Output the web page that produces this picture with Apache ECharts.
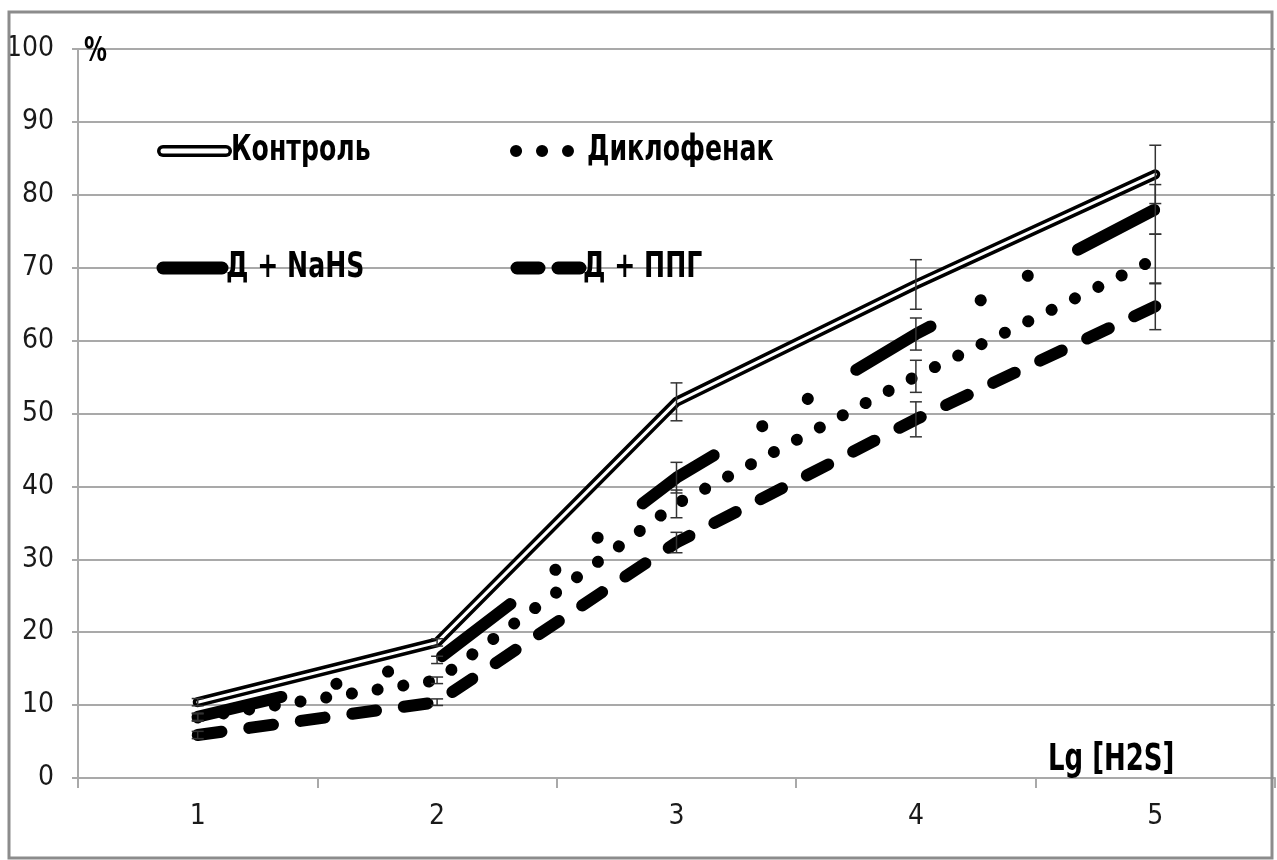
<!DOCTYPE html>
<html>
<head>
<meta charset="utf-8">
<script src="https://cdn.jsdelivr.net/npm/echarts@6/dist/echarts.min.js"></script>
<style>
html,body{margin:0;padding:0;background:#fff;}
#chart{width:1277px;height:860px;}
</style>
</head>
<body>
<div id="chart"></div>
<script>
// ---- data ----
const categories = ['1', '2', '3', '4', '5'];
const yTicks = [0, 10, 20, 30, 40, 50, 60, 70, 80, 90, 100];
const seriesNames = ['Контроль', 'Диклофенак', 'Д + NaHS', 'Д + ППГ'];
const control = [10.4, 18.6, 51.6, 67.7, 82.8];
const controlErr = [0.5, 0.5, 2.6, 3.4, 4.0];
const diclofenac = [8.3, 13.4, 37.6, 55.1, 71.2];
const diclofenacErr = [0.5, 0.45, 1.9, 2.2, 3.4];
const nahs = [8.4, 16.2, 41.2, 60.9, 78.0];
const nahsErr = [0.5, 0.5, 2.1, 2.2, 3.4];
const ppg = [5.9, 10.4, 32.3, 49.2, 64.7];
const ppgErr = [0.5, 0.45, 1.4, 2.4, 3.2];
const yAxisUnit = '%';
const xAxisTitle = 'Lg [H2S]';

const FONT = "'DejaVu Sans Condensed', 'Liberation Sans Narrow', 'Liberation Sans', sans-serif";
const GRID_COLOR = '#a9a9a9';

function errData(vals, errs) {
  return vals.map((v, i) => [i, v, errs[i]]);
}
const errAll = [].concat(
  errData(control, controlErr),
  errData(diclofenac, diclofenacErr),
  errData(nahs, nahsErr),
  errData(ppg, ppgErr)
);

const chart = echarts.init(document.getElementById('chart'), null, {renderer: 'canvas'});

function legendText(x, y, txt) {
  return {type: 'text', x: x, y: y, scaleX: 0.8, scaleY: 1,
    style: {text: txt, font: 'bold 35px ' + FONT, fill: '#000', textVerticalAlign: 'top'}, z: 50};
}

const option = {
  backgroundColor: '#ffffff',
  animation: false,
  grid: {left: 78, right: 2, top: 49, bottom: 82, containLabel: false},
  xAxis: {
    type: 'category',
    data: categories,
    boundaryGap: true,
    axisLine: {show: true, lineStyle: {color: GRID_COLOR, width: 2}},
    axisTick: {show: true, length: 10, alignWithLabel: false, lineStyle: {color: GRID_COLOR, width: 2}},
    axisLabel: {fontFamily: FONT, fontSize: 28, color: '#1a1a1a', margin: 25},
    splitLine: {show: false}
  },
  yAxis: {
    type: 'value',
    min: yTicks[0],
    max: yTicks[yTicks.length - 1],
    interval: 10,
    axisLine: {show: true, lineStyle: {color: GRID_COLOR, width: 2}},
    axisTick: {show: true, length: 6, lineStyle: {color: GRID_COLOR, width: 2}},
    axisLabel: {fontFamily: FONT, fontSize: 28, color: '#1a1a1a', margin: 24},
    splitLine: {show: true, lineStyle: {color: GRID_COLOR, width: 2}}
  },
  series: [
    {
      name: seriesNames[2], type: 'line', data: nahs, symbol: 'none', z: 3,
      lineStyle: {color: '#000', width: 12, type: [86, 56.5, 0.1, 53, 0.1, 56.5], cap: 'round', join: 'round'}
    },
    {
      name: seriesNames[1], type: 'line', data: diclofenac, symbol: 'none', z: 3,
      lineStyle: {color: '#000', width: 12, type: [0.1, 25.9], cap: 'round', join: 'round'}
    },
    {
      name: seriesNames[3], type: 'line', data: ppg, symbol: 'none', z: 3,
      lineStyle: {color: '#000', width: 12, type: [24, 28], cap: 'round', join: 'round'}
    },
    {
      name: seriesNames[0], type: 'line', data: control, symbol: 'none', z: 4,
      lineStyle: {color: '#000', width: 10, cap: 'round', join: 'round'}
    },
    {
      name: seriesNames[0] + '_inner', type: 'line', data: control, symbol: 'none', z: 5,
      lineStyle: {color: '#fff', width: 3, cap: 'round', join: 'round'}
    },
    {
      name: 'errors', type: 'custom', z: 6,
      data: errAll,
      encode: {x: 0, y: 1},
      renderItem: function (params, api) {
        const x = api.value(0), y = api.value(1), e = api.value(2);
        const top = api.coord([x, y + e]);
        const bot = api.coord([x, y - e]);
        const hw = 6;
        const style = {stroke: '#333', lineWidth: 1.5};
        return {
          type: 'group',
          children: [
            {type: 'line', shape: {x1: top[0], y1: top[1], x2: bot[0], y2: bot[1]}, style: style},
            {type: 'line', shape: {x1: top[0] - hw, y1: top[1], x2: top[0] + hw, y2: top[1]}, style: style},
            {type: 'line', shape: {x1: bot[0] - hw, y1: bot[1], x2: bot[0] + hw, y2: bot[1]}, style: style}
          ]
        };
      }
    }
  ],
  graphic: [
    // outer frame
    {type: 'rect', shape: {x: 9, y: 12, width: 1263, height: 846}, style: {fill: 'none', stroke: '#8c8c8c', lineWidth: 3}, z: 100},
    // axis annotations
    {type: 'text', x: 84, y: 35, scaleX: 0.75, style: {text: yAxisUnit, font: 'bold 34px ' + FONT, fill: '#000', textVerticalAlign: 'top'}, z: 50},
    {type: 'text', x: 1048, y: 742, scaleX: 0.78, style: {text: xAxisTitle, font: 'bold 37px ' + FONT, fill: '#000', textVerticalAlign: 'top'}, z: 50},
    // legend: Контроль (double line)
    {type: 'line', shape: {x1: 163, y1: 151, x2: 226, y2: 151}, style: {stroke: '#000', lineWidth: 12, lineCap: 'round'}, z: 50},
    {type: 'line', shape: {x1: 163, y1: 151, x2: 226, y2: 151}, style: {stroke: '#fff', lineWidth: 5, lineCap: 'round'}, z: 51},
    legendText(231, 133, seriesNames[0]),
    // legend: Диклофенак (dots)
    {type: 'line', shape: {x1: 516, y1: 151, x2: 568, y2: 151}, style: {stroke: '#000', lineWidth: 12, lineCap: 'round', lineDash: [0.1, 25.9]}, z: 50},
    legendText(587, 133, seriesNames[1]),
    // legend: Д + NaHS (solid thick)
    {type: 'line', shape: {x1: 163, y1: 268, x2: 222, y2: 268}, style: {stroke: '#000', lineWidth: 13, lineCap: 'round'}, z: 50},
    legendText(226, 250, seriesNames[2]),
    // legend: Д + ППГ (dashes)
    {type: 'line', shape: {x1: 517, y1: 268, x2: 580, y2: 268}, style: {stroke: '#000', lineWidth: 13, lineCap: 'round', lineDash: [22, 19]}, z: 50},
    legendText(583, 250, seriesNames[3])
  ]
};
chart.setOption(option);
</script>
</body>
</html>
